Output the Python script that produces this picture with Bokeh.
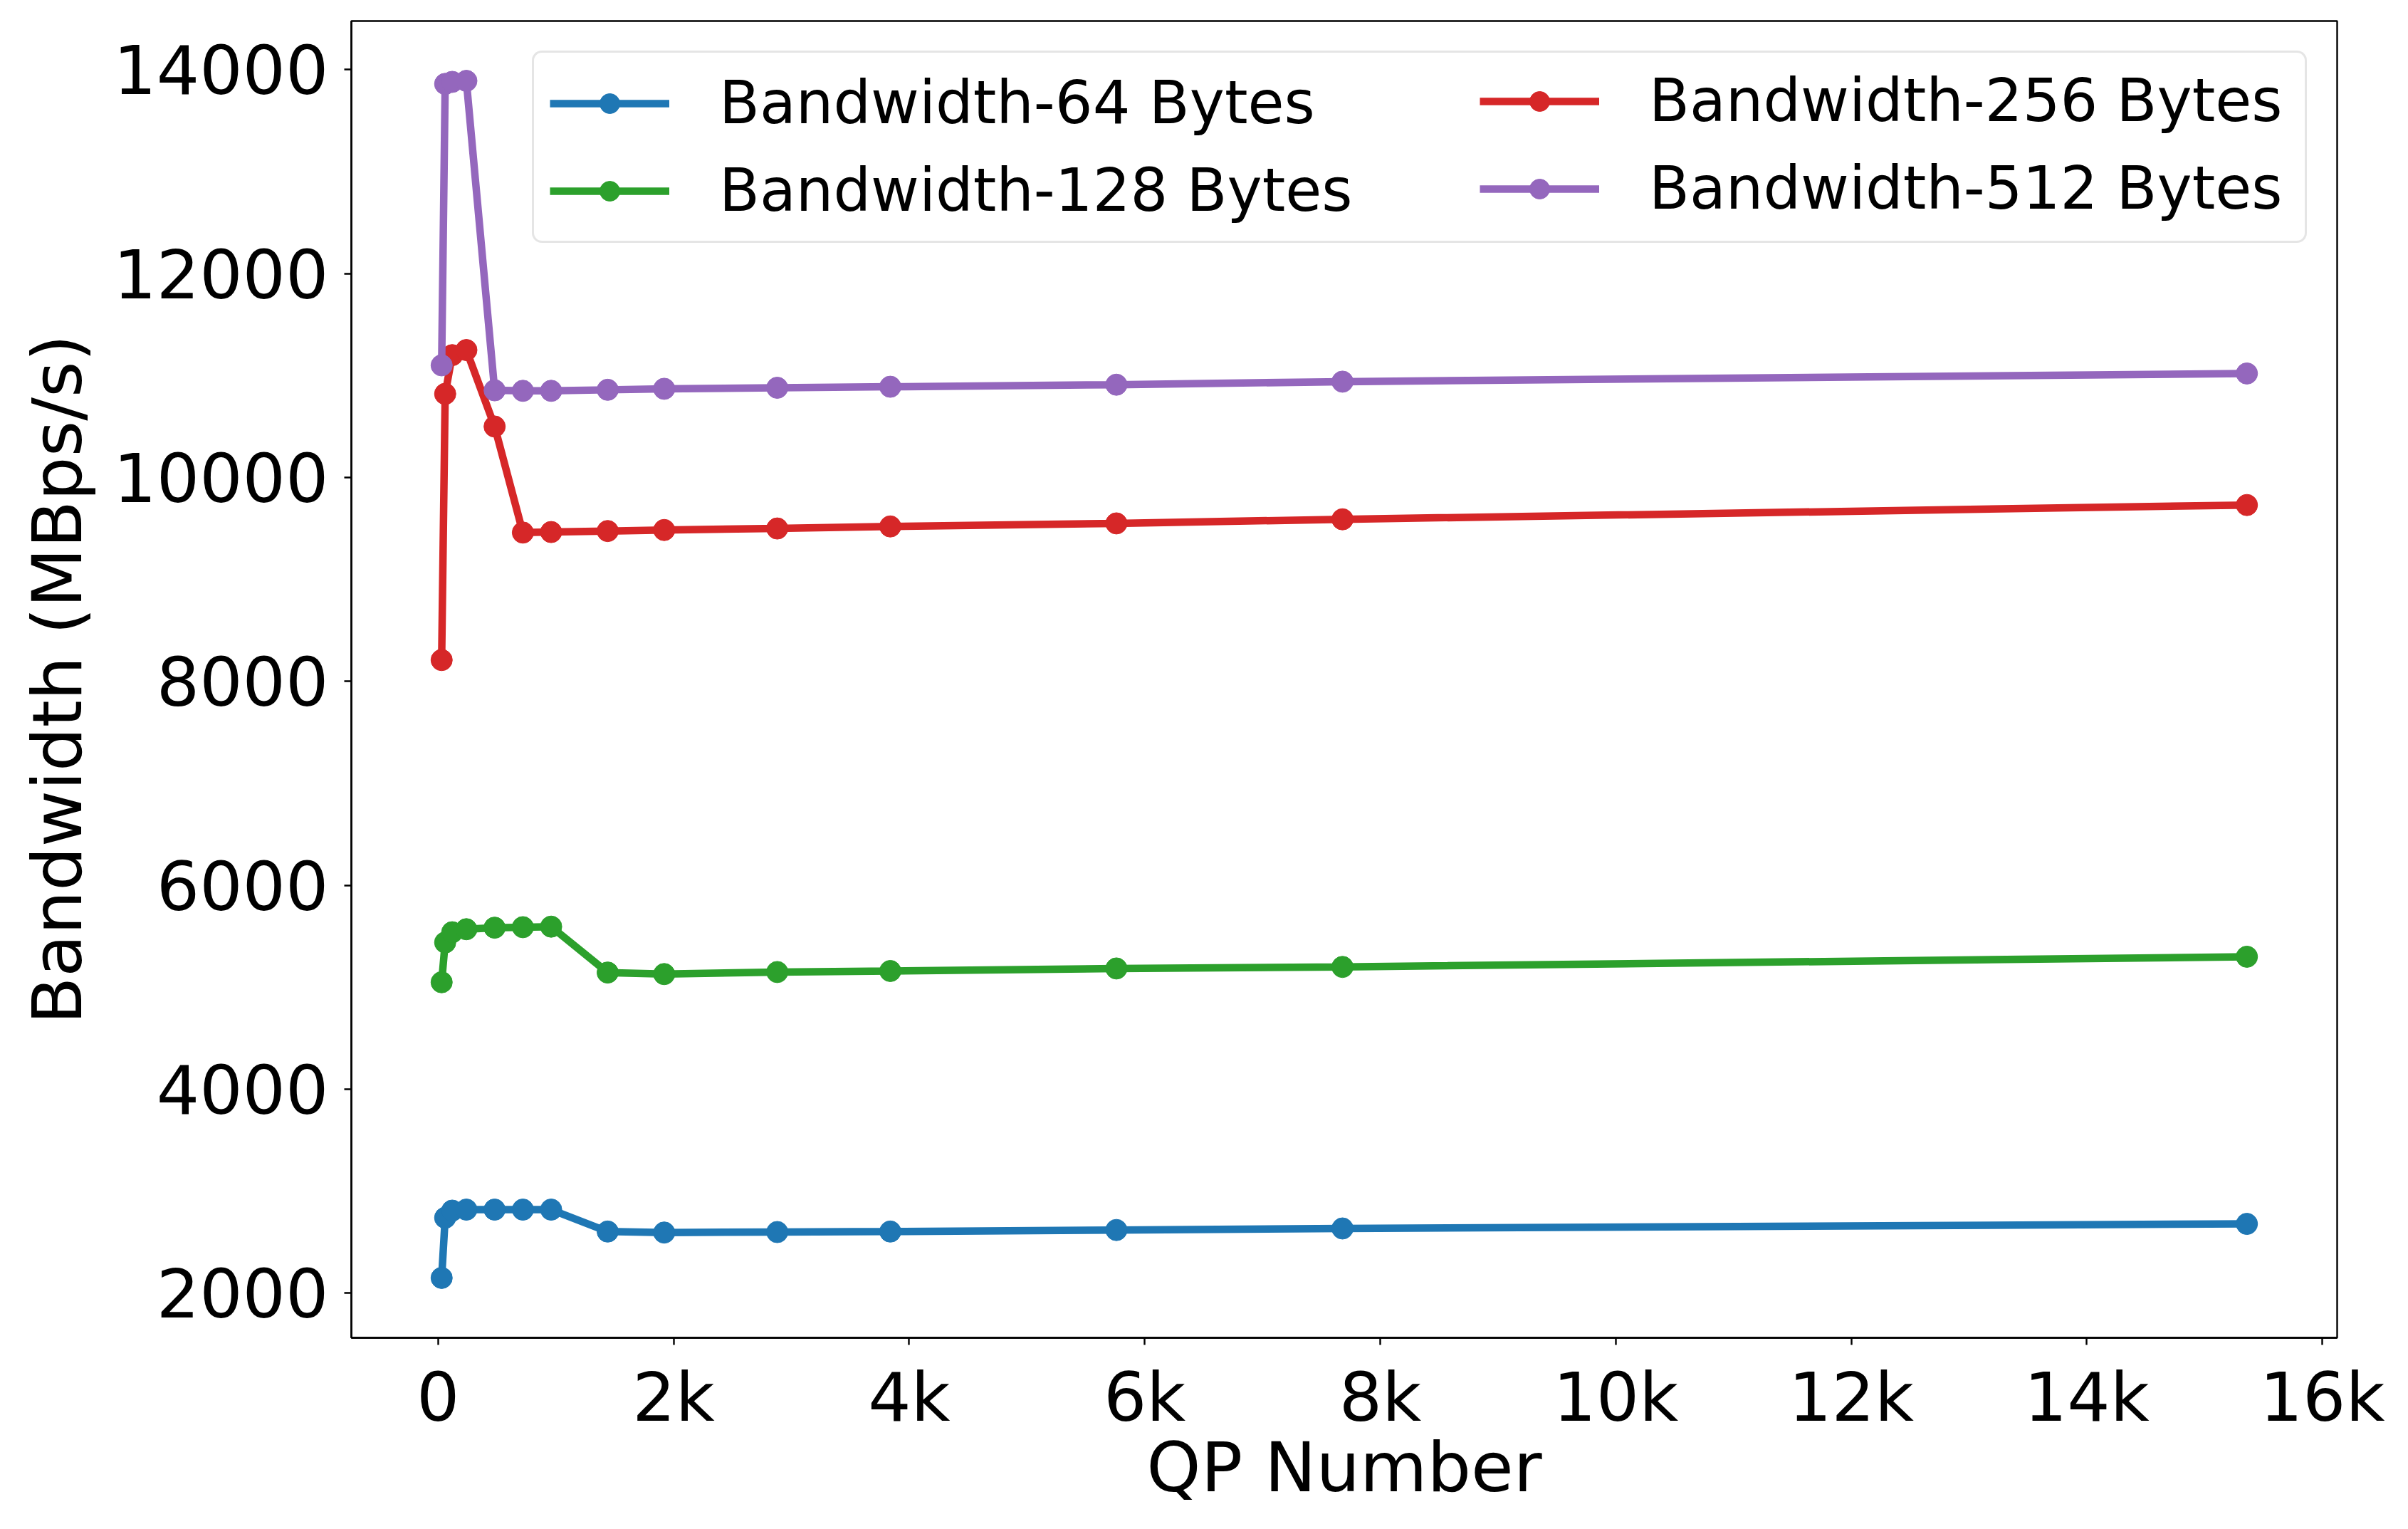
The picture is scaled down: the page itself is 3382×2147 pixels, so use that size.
from bokeh.plotting import figure
from bokeh.models import Range1d, FixedTicker, Legend, LegendItem
from bokeh.embed import file_html
from bokeh.resources import INLINE

# ---- data ----
qp_numbers = [30, 60, 120, 240, 480, 720, 960, 1440, 1920, 2880, 3840, 5760, 7680, 15360]
bw_64 = [2150, 2740, 2810, 2820, 2820, 2820, 2820, 2605, 2595, 2600, 2605, 2620, 2635, 2680]
bw_128 = [5050, 5440, 5540, 5570, 5585, 5590, 5595, 5145, 5130, 5150, 5160, 5185, 5200, 5300]
bw_256 = [8210, 10820, 11200, 11250, 10500, 9460, 9465, 9475, 9485, 9500, 9520, 9550, 9590, 9730]
bw_512 = [11100, 13860, 13880, 13890, 10855, 10850, 10850, 10860, 10870, 10880, 10890, 10910, 10940, 11020]

series_names = ["Bandwidth-64 Bytes", "Bandwidth-128 Bytes", "Bandwidth-256 Bytes", "Bandwidth-512 Bytes"]
series_values = [bw_64, bw_128, bw_256, bw_512]
series_colors = ["#1f77b4", "#2ca02c", "#d62728", "#9467bd"]

x_ticks = [0, 2000, 4000, 6000, 8000, 10000, 12000, 14000, 16000]
x_tick_labels = ["0", "2k", "4k", "6k", "8k", "10k", "12k", "14k", "16k"]
y_ticks = [2000, 4000, 6000, 8000, 10000, 12000, 14000]

# ---- ranges with 5% padding like matplotlib ----
xmin, xmax = min(qp_numbers), max(qp_numbers)
xs = xmax - xmin
all_y = [v for s in series_values for v in s]
ymin, ymax = min(all_y), max(all_y)
ys = ymax - ymin

FONT = "DejaVu Sans"

p = figure(width=3366, height=2131, output_backend="svg", toolbar_location=None,
           x_range=Range1d(xmin - 0.05 * xs, xmax + 0.05 * xs),
           y_range=Range1d(ymin - 0.05 * ys, ymax + 0.05 * ys),
           min_border_left=493, min_border_right=84, min_border_top=29, min_border_bottom=253)

p.xgrid.visible = False
p.ygrid.visible = False
p.outline_line_color = "black"
p.outline_line_width = 2.4
p.outline_line_alpha = 1.0

for ax in (p.xaxis[0], p.yaxis[0]):
    ax.axis_line_color = "black"
    ax.axis_line_width = 2.4
    ax.major_tick_line_color = "black"
    ax.major_tick_line_width = 2.4
    ax.major_tick_out = 10
    ax.major_tick_in = 0
    ax.minor_tick_line_color = None
    ax.major_label_text_font = FONT
    ax.major_label_text_font_size = "95px"
    ax.major_label_text_color = "black"
    ax.axis_label_text_font = FONT
    ax.axis_label_text_font_size = "97px"
    ax.axis_label_text_font_style = "normal"
    ax.axis_label_text_color = "black"

p.xaxis.ticker = FixedTicker(ticks=x_ticks)
p.xaxis.major_label_overrides = {t: l for t, l in zip(x_ticks, x_tick_labels)}
p.yaxis.ticker = FixedTicker(ticks=y_ticks)
p.yaxis.major_label_overrides = {t: str(t) for t in y_ticks}
p.xaxis.axis_label = "QP Number"
p.yaxis.axis_label = "Bandwidth (MBps/s)"
p.xaxis.major_label_standoff = 18
p.yaxis.major_label_standoff = 22
p.xaxis.axis_label_standoff = -16
p.yaxis.axis_label_standoff = 19

items = []
for name, vals, col in zip(series_names, series_values, series_colors):
    r1 = p.line(qp_numbers, vals, line_color=col, line_width=10.5)
    r2 = p.scatter(qp_numbers, vals, size=30, fill_color=col, line_color=col, marker="circle")
    items.append(LegendItem(label=name, renderers=[r1, r2]))

legend_props = Legend.properties()


def style_legend(lg, boxed, margin, label_width):
    lg.location = "top_right"
    lg.orientation = "vertical"
    lg.margin = margin
    lg.padding = 22
    lg.spacing = 26
    lg.glyph_width = 168
    lg.glyph_height = 70
    lg.label_height = 83
    lg.label_standoff = 70
    lg.label_width = label_width
    lg.label_text_font = FONT
    lg.label_text_font_size = "83px"
    lg.label_text_color = "black"
    if boxed:
        lg.border_line_color = "#cccccc"
        lg.border_line_width = 3
        lg.background_fill_color = "white"
        lg.background_fill_alpha = 0.8
        if "border_radius" in legend_props:
            lg.border_radius = 14
    else:
        lg.border_line_color = None
        lg.background_fill_alpha = 0.0
        lg.background_fill_color = None


# left column (its box spans the whole legend) and right column drawn on top
legend_left = Legend(items=items[:2])
style_legend(legend_left, True, 42, 2205)
legend_right = Legend(items=items[2:])
style_legend(legend_right, False, 64, 902)
p.add_layout(legend_left)
p.add_layout(legend_right)

open("out.html", "w").write(file_html(p, INLINE))
